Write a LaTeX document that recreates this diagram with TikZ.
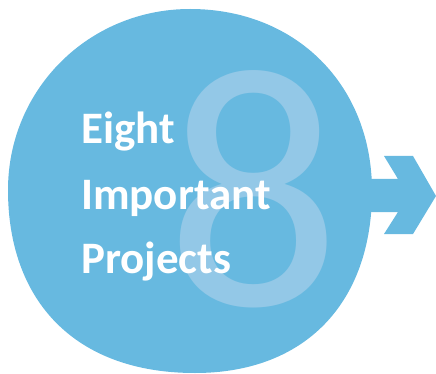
\documentclass[tikz,border=0pt]{standalone}
\usepackage{fontspec}
\setmainfont{Carlito}
\definecolor{blobblue}{RGB}{103,185,224}
\definecolor{eightblue}{RGB}{147,200,231}
\begin{document}
\begin{tikzpicture}[x=1pt,y=-1pt,
  label text/.style={text=white,font=\bfseries\fontsize{45}{45}\selectfont,inner sep=0pt,anchor=base west},
  big digit/.style={text=eightblue,font=\fontsize{344}{344}\selectfont,inner sep=0pt,anchor=base}]
\useasboundingbox (0,0) rectangle (436,374);
% arrow
\fill[blobblue] (340,179) -- (398,179) -- (384,156) -- (413,156) -- (436,196)
  -- (413,234) -- (384,234) -- (398,212) -- (340,212) -- cycle;
% blob
\fill[blobblue] (190,9) .. controls (296,9) and (372,85) .. (372,191)
  .. controls (372,302) and (306,373) .. (195,373)
  .. controls (74,373) and (8,300) .. (8,190)
  .. controls (8,89) and (89,9) .. (190,9) -- cycle;
\node[big digit] (eight) at (254,305) {8};
\node[label text] (l1) at (81,144) {Eight};
\node[label text] (l2) at (81,209) {Important};
\node[label text] (l3) at (81,273) {Projects};
\end{tikzpicture}
\end{document}
